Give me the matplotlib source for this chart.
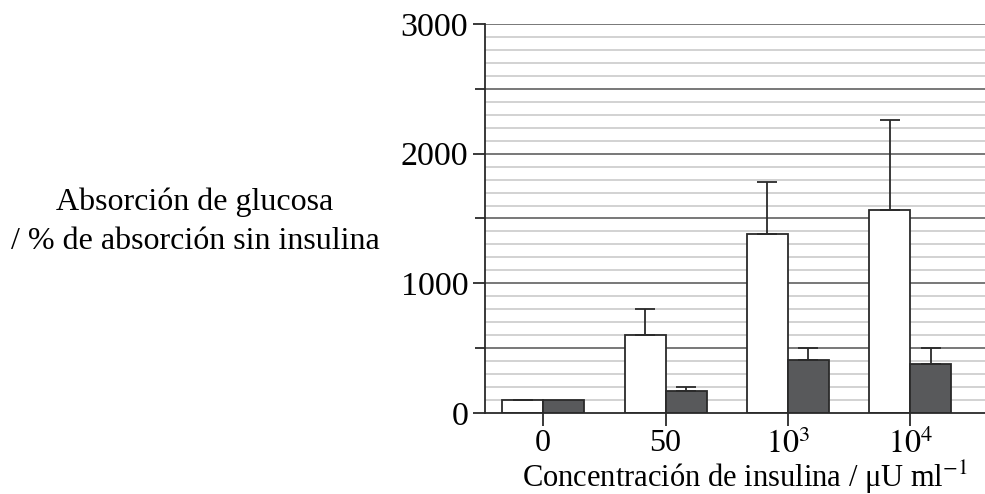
import matplotlib.pyplot as plt
import numpy as np
from matplotlib.ticker import MultipleLocator

plt.rcParams['font.family'] = ['Liberation Serif', 'DejaVu Serif']
plt.rcParams['mathtext.fontset'] = 'stix'

# 数据
categories = ['0', '50', '$10^3$', '$10^4$']
white_vals = [100, 600, 1380, 1565]
white_err = [0, 200, 400, 695]
dark_vals = [100, 170, 410, 380]
dark_err = [0, 30, 90, 120]

fig = plt.figure(figsize=(9.85, 4.94), dpi=100)
ax = fig.add_axes([485 / 985, 1 - 413 / 494, 500 / 985, 389 / 494])

x = np.arange(len(categories))
w = 0.335

# 网格：每100一条浅线，每500一条深线
for v in range(100, 3001, 100):
    if v % 500 == 0:
        ax.axhline(v, color='#6d6d6d', lw=1.3, zorder=1)
    else:
        ax.axhline(v, color='#cfcfcf', lw=1.3, zorder=1)

ax.bar(x - w / 2, white_vals, w, color='white', edgecolor='#2a2a2a', lw=1.3, zorder=3)
ax.bar(x + w / 2, dark_vals, w, color='#58595b', edgecolor='#2a2a2a', lw=1.3, zorder=3)
ax.errorbar(x - w / 2, white_vals, yerr=[np.zeros(4), white_err], fmt='none',
            ecolor='#2a2a2a', elinewidth=1.3, capsize=7.5, capthick=1.3, zorder=4)
dmask = np.array(dark_err) > 0
ax.errorbar((x + w / 2)[dmask], np.array(dark_vals)[dmask],
            yerr=[np.zeros(dmask.sum()), np.array(dark_err)[dmask]], fmt='none',
            ecolor='#2a2a2a', elinewidth=1.3, capsize=7.5, capthick=1.3, zorder=4)

ax.set_xlim(-0.475, 3.61)
ax.set_ylim(0, 3000)
ax.set_yticks([0, 1000, 2000, 3000])
ax.yaxis.set_minor_locator(MultipleLocator(500))
ax.set_xticks(x)
ax.set_xticklabels(categories)
ax.tick_params(axis='y', which='major', length=9, width=1.3, color='#2a2a2a',
               labelsize=24.5, pad=3)
ax.tick_params(axis='y', which='minor', length=7, width=1.3, color='#2a2a2a')
ax.tick_params(axis='x', length=9, width=1.3, color='#2a2a2a', labelsize=23, pad=2.5)

for s in ['top', 'right']:
    ax.spines[s].set_visible(False)
for s in ['left', 'bottom']:
    ax.spines[s].set_color('#2a2a2a')
    ax.spines[s].set_linewidth(1.3)
    ax.spines[s].set_zorder(5)

ax.set_xlabel('Concentración de insulina / μU ml$^{-1}$', fontsize=22)
ax.xaxis.set_label_coords(0.52, -0.117)

fig.text(195 / 985, 1 - 222 / 494, 'Absorción de glucosa\n/ % de absorción sin insulina',
         ha='center', va='center', fontsize=23, linespacing=1.45, multialignment='center')

plt.savefig('out.png', dpi=100)
plt.close()
